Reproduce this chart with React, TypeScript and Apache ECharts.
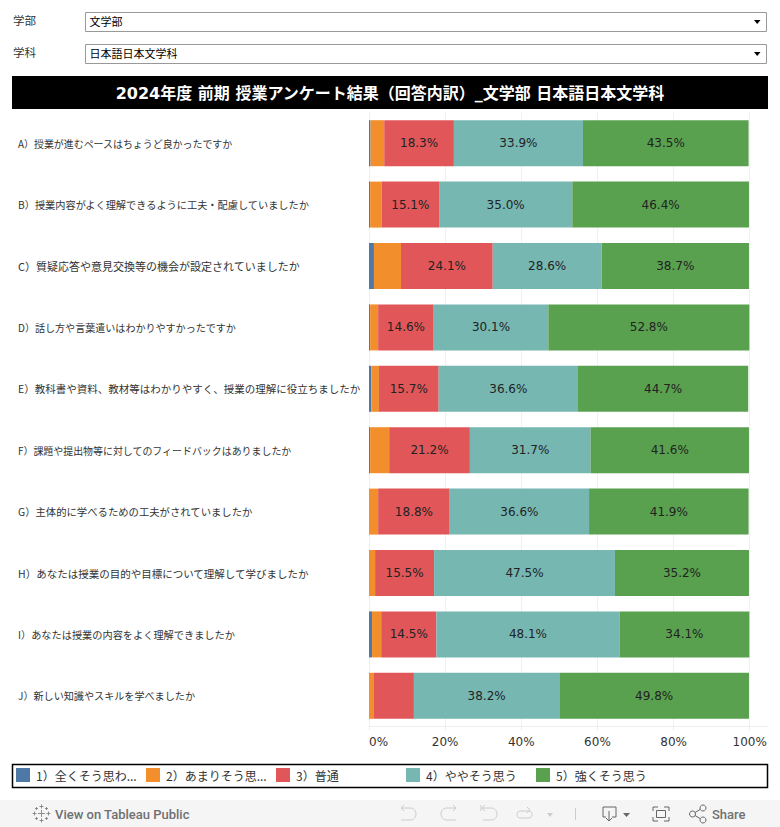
import React, { useEffect, useRef } from "react";
import * as echarts from "echarts";

const questions = [
  "A）授業が進むペースはちょうど良かったですか",
  "B）授業内容がよく理解できるように工夫・配慮していましたか",
  "C）質疑応答や意見交換等の機会が設定されていましたか",
  "D）話し方や言葉遣いはわかりやすかったですか",
  "E）教科書や資料、教材等はわかりやすく、授業の理解に役立ちましたか",
  "F）課題や提出物等に対してのフィードバックはありましたか",
  "G）主体的に学べるための工夫がされていましたか",
  "H）あなたは授業の目的や目標について理解して学びましたか",
  "I）あなたは授業の内容をよく理解できましたか",
  "J）新しい知識やスキルを学べましたか",
];
const seriesNames = ["1）全くそう思わない", "2）あまりそう思わない", "3）普通", "4）ややそう思う", "5）強くそう思う"];
const colors = ["#4e79a7", "#f28e2b", "#e15759", "#76b7b2", "#59a14f"];
const v1 = [0.4, 0.3, 1.3, 0.3, 0.6, 0.3, 0, 0, 0.8, 0];
const v2 = [3.6, 3.0, 7.1, 2.1, 2.0, 5.0, 2.4, 1.6, 2.4, 1.3];
const v3 = [18.3, 15.1, 24.1, 14.6, 15.7, 21.2, 18.8, 15.5, 14.5, 10.5];
const v4 = [33.9, 35.0, 28.6, 30.1, 36.6, 31.7, 36.6, 47.5, 48.1, 38.2];
const v5 = [43.5, 46.4, 38.7, 52.8, 44.7, 41.6, 41.9, 35.2, 34.1, 49.8];
const xTicks = [0, 20, 40, 60, 80, 100];
const legendLefts = [16, 146, 276, 406, 536];
const questionFontSizes = [9.95, 10.2, 11, 10.05, 10.5, 9.95, 10.35, 10.5, 10.2, 10.1];
const labelMin = 14;

const JP = '"Noto Sans CJK JP", "DejaVu Sans", sans-serif';
const LAT = '"DejaVu Sans", "Noto Sans CJK JP", sans-serif';

const plus = (x: number, y: number, a: number) => `M${x - a} ${y}H${x + a}M${x} ${y - a}V${y + a}`;
const icons: Record<string, string> = {
  undoA: "M401 808H410C418 808 418 820 410 820H401M404 805L401 808L404 811",
  redoA: "M456 808H447C439 808 439 820 447 820H456M453 805L456 808L453 811",
  revertA: "M482 808H491C499 808 499 820 491 820H483M481 805V811M485 805L482 808L485 811",
  loopA: "M520 811H529C533 811 533 818 529 818H520C516 818 516 811 520 811M527 807L530 810L527 813",
  downB: "M606 817H603V807H616V817H612M609 811V821M606 818L609 821L612 818",
  fullB: "M653 811V807H658M664 807H669V811M669 817V821H664M658 821H653V817M656.5 810.5H665.5V817.5H656.5Z",
  shareB: "M695 812.5L700 809.5M695 815.5L700 818.5",
  logoL: [
    plus(41.5, 813.5, 3.5),
    plus(41.5, 806.5, 2),
    plus(41.5, 820.5, 2),
    plus(34.5, 813.5, 2),
    plus(48.5, 813.5, 2),
    plus(36.5, 808.5, 1.5),
    plus(46.5, 808.5, 1.5),
    plus(36.5, 818.5, 1.5),
    plus(46.5, 818.5, 1.5),
  ].join(""),
};
Object.keys(icons).forEach((k) => {
  echarts.graphic.registerShape(k, echarts.graphic.extendPath(icons[k], {}));
});

export default function App() {
  const ref = useRef<HTMLDivElement>(null);
  useEffect(() => {
    const chart = echarts.init(ref.current!, undefined, { renderer: "svg" });
    const raw = [v1, v2, v3, v4, v5];
    const selector = (y: number, label: string, value: string) => [
      { type: "text", x: 13, y: y + 7, style: { text: label, fontFamily: JP, fontSize: 11.5, fill: "#333", verticalAlign: "middle" } },
      { type: "rect", shape: { x: 85.5, y: y, width: 681, height: 19 }, style: { fill: "#fff", stroke: "#999", lineWidth: 1 } },
      { type: "text", x: 89.5, y: y + 8.5, style: { text: value, fontFamily: JP, fontSize: 11, fill: "#000", verticalAlign: "middle" } },
      { type: "polygon", shape: { points: [[754, y + 7.5], [760.5, y + 7.5], [757.2, y + 11.5]] }, style: { fill: "#000" } },
    ];
    const iconEl = (name: string, color: string, lineWidth = 1) => ({ type: name, style: { fill: "none", stroke: color, lineWidth } });
    chart.setOption({
      animation: false,
      backgroundColor: "#fff",
      grid: { left: 369, top: 112.5, width: 399, height: 614, containLabel: false, outerBoundsMode: "none" },
      xAxis: {
        type: "value",
        min: 0,
        max: 104.8,
        interval: 20,
        axisLine: { show: true, lineStyle: { color: "#eee" } },
        axisTick: { show: true, length: 4, lineStyle: { color: "#eee" }, customValues: xTicks },
        splitLine: { show: true, lineStyle: { color: "#f0f0f0" } },
        axisLabel: {
          customValues: xTicks,
          alignMinLabel: "left",
          margin: 9,
          formatter: (v: number) => `${v}%`,
          fontFamily: LAT,
          fontSize: 12,
          color: "#333",
        },
      },
      yAxis: {
        type: "category",
        inverse: true,
        data: questions.map((value, i) => ({ value, textStyle: { fontSize: questionFontSizes[i], align: "left" } })),
        axisLine: { show: true, lineStyle: { color: "#eee" } },
        axisTick: { show: false },
        axisLabel: { align: "left", margin: 351, fontFamily: JP, fontSize: 10.3, color: "#333", interval: 0 },
      },
      legend: seriesNames.map((name, i) => ({
        data: [name],
        left: legendLefts[i],
        top: 768,
        itemWidth: 14,
        itemHeight: 14,
        icon: "rect",
        selectedMode: false,
        padding: 0,
        textStyle: { fontFamily: JP, fontSize: 12, color: "#333", width: 106, overflow: "truncate", ellipsis: "...", padding: [0, 0, 2, 1] },
      })),
      series: seriesNames.map((name, i) => ({
        name,
        type: "bar",
        stack: "total",
        barWidth: 46,
        data: raw[i],
        itemStyle: { color: colors[i] },
        label: {
          show: i >= 2,
          position: "inside",
          fontFamily: LAT,
          fontSize: 12,
          color: "#222",
          formatter: (p: any) => (p.value >= labelMin ? `${p.value.toFixed(1)}%` : ""),
        },
      })),
      graphic: [
        ...selector(12.5, "学部", "文学部"),
        ...selector(44.5, "学科", "日本語日本文学科"),
        { type: "rect", shape: { x: 12, y: 76, width: 756, height: 33 }, style: { fill: "#000" } },
        {
          type: "text",
          x: 390,
          y: 93,
          style: {
            text: "2024年度 前期 授業アンケート結果（回答内訳）_文学部 日本語日本文学科",
            fontFamily: LAT,
            fontWeight: "bold",
            fontSize: 16,
            fill: "#fff",
            align: "center",
            verticalAlign: "middle",
          },
        },
        { type: "rect", z: -1, shape: { x: 12.5, y: 764.5, width: 755, height: 23 }, style: { fill: "none", stroke: "#000", lineWidth: 1.5 } },
        { type: "rect", shape: { x: 0, y: 800, width: 780, height: 27 }, style: { fill: "#f5f5f5" } },
        iconEl("logoL", "#777", 0.8),
        { type: "text", x: 55, y: 814, style: { text: "View on Tableau Public", fontFamily: "Roboto, sans-serif", fontWeight: 500, fontSize: 13, fill: "#707070", verticalAlign: "middle" } },
        iconEl("undoA", "#ccc"),
        iconEl("redoA", "#ccc"),
        iconEl("revertA", "#ccc"),
        iconEl("loopA", "#ccc"),
        { type: "polygon", shape: { points: [[547, 813], [553, 813], [550, 817]] }, style: { fill: "#ccc" } },
        { type: "line", shape: { x1: 575.5, y1: 808, x2: 575.5, y2: 820 }, style: { stroke: "#ccc" } },
        iconEl("downB", "#666"),
        { type: "polygon", shape: { points: [[623, 813], [630, 813], [626.5, 817]] }, style: { fill: "#666" } },
        iconEl("fullB", "#666"),
        iconEl("shareB", "#666"),
        { type: "circle", shape: { cx: 692.5, cy: 814, r: 3 }, style: { fill: "none", stroke: "#666" } },
        { type: "circle", shape: { cx: 703, cy: 808, r: 3 }, style: { fill: "none", stroke: "#666" } },
        { type: "circle", shape: { cx: 703, cy: 820, r: 3 }, style: { fill: "none", stroke: "#666" } },
        { type: "text", x: 712, y: 814, style: { text: "Share", fontFamily: "Roboto, sans-serif", fontWeight: 500, fontSize: 13, fill: "#707070", verticalAlign: "middle" } },
      ],
    });
    return () => chart.dispose();
  }, []);
  return <div ref={ref} style={{ position: "absolute", left: 0, top: 0, width: 780, height: 827 }} />;
}
